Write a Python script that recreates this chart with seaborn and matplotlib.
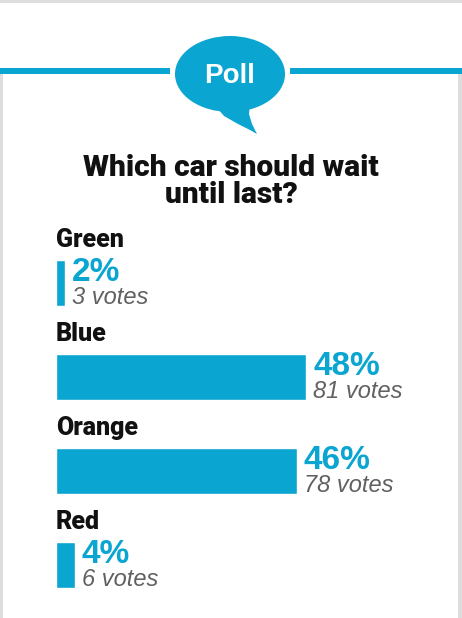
import numpy as np
import pandas as pd
import seaborn as sns
import matplotlib.pyplot as plt
from matplotlib.patches import Ellipse, Polygon, Rectangle

cars = ["Green", "Blue", "Orange", "Red"]
votes = [3, 81, 78, 6]
pct_labels = ["2%", "48%", "46%", "4%"]
title_lines = ["Which car should wait", "until last?"]

BLUE = "#0aa5d0"
GREY_TXT = "#616161"
BORDER = "#dddddd"
INK = "#111111"

sns.set_style("white")
plt.rcParams['font.family'] = ['Liberation Sans', 'DejaVu Sans']

total = sum(votes)
df = pd.DataFrame({"car": cars, "share": [v / total * 100 for v in votes]})

W, H = 462, 618
fig = plt.figure(figsize=(W / 100, H / 100), dpi=100)

# decoration layer in pixel coordinates
deco = fig.add_axes([0, 0, 1, 1])
deco.set_xlim(0, W)
deco.set_ylim(H, 0)
deco.axis('off')
deco.add_patch(Rectangle((0, 0), W, 2.5, color=BORDER, lw=0))
deco.add_patch(Rectangle((0, 72), 3, H - 72, color=BORDER, lw=0))
deco.add_patch(Rectangle((458, 72), 4, H - 72, color=BORDER, lw=0))
deco.add_patch(Rectangle((0, 68), 170, 6, color=BLUE, lw=0))
deco.add_patch(Rectangle((290, 68), W - 290, 6, color=BLUE, lw=0))
deco.add_patch(Ellipse((230, 74), 110, 76, color=BLUE, lw=0))
deco.add_patch(Polygon([(212, 102), (224, 116), (238, 124), (250, 130), (257, 134),
                        (252, 124), (249, 114), (250, 104)], closed=True, color=BLUE, lw=0))
deco.text(230, 76, "Poll", color="white", fontsize=20, fontweight="bold",
          ha="center", va="center")
for k, line in enumerate(title_lines):
    deco.text(231, 176 + 27 * k, line, fontsize=21.5, fontweight=900,
              family=['Roboto', 'Liberation Sans'],
              ha="center", va="baseline", color=INK)

# bars
px_per_pct = 5.19
left = 56
ax = fig.add_axes([left / W, 1 - 612 / H, (W - left) / W, 376 / H])
sns.barplot(data=df, x="share", y="car", orient="h", color=BLUE, width=0.49,
            saturation=1, ax=ax)
ax.set_xlim(0, (W - left) / px_per_pct)
ax.set_ylim(3.5, -0.5)
ax.axis('off')

gap = 7 / px_per_pct
for i, row in df.iterrows():
    ax.text(0, i - 0.383, row["car"], fontsize=18, fontweight=900,
            family=['Roboto', 'Liberation Sans'],
            color=INK, va="baseline", ha="left")
    ax.text(row["share"] + gap, i - 0.02, pct_labels[i], fontsize=24,
            fontweight="bold", color=BLUE, va="baseline", ha="left")
    ax.text(row["share"] + gap, i + 0.222, f"{votes[i]} votes", fontsize=17,
            style="italic", color=GREY_TXT, va="baseline", ha="left")

fig.savefig("out.png", dpi=100)
